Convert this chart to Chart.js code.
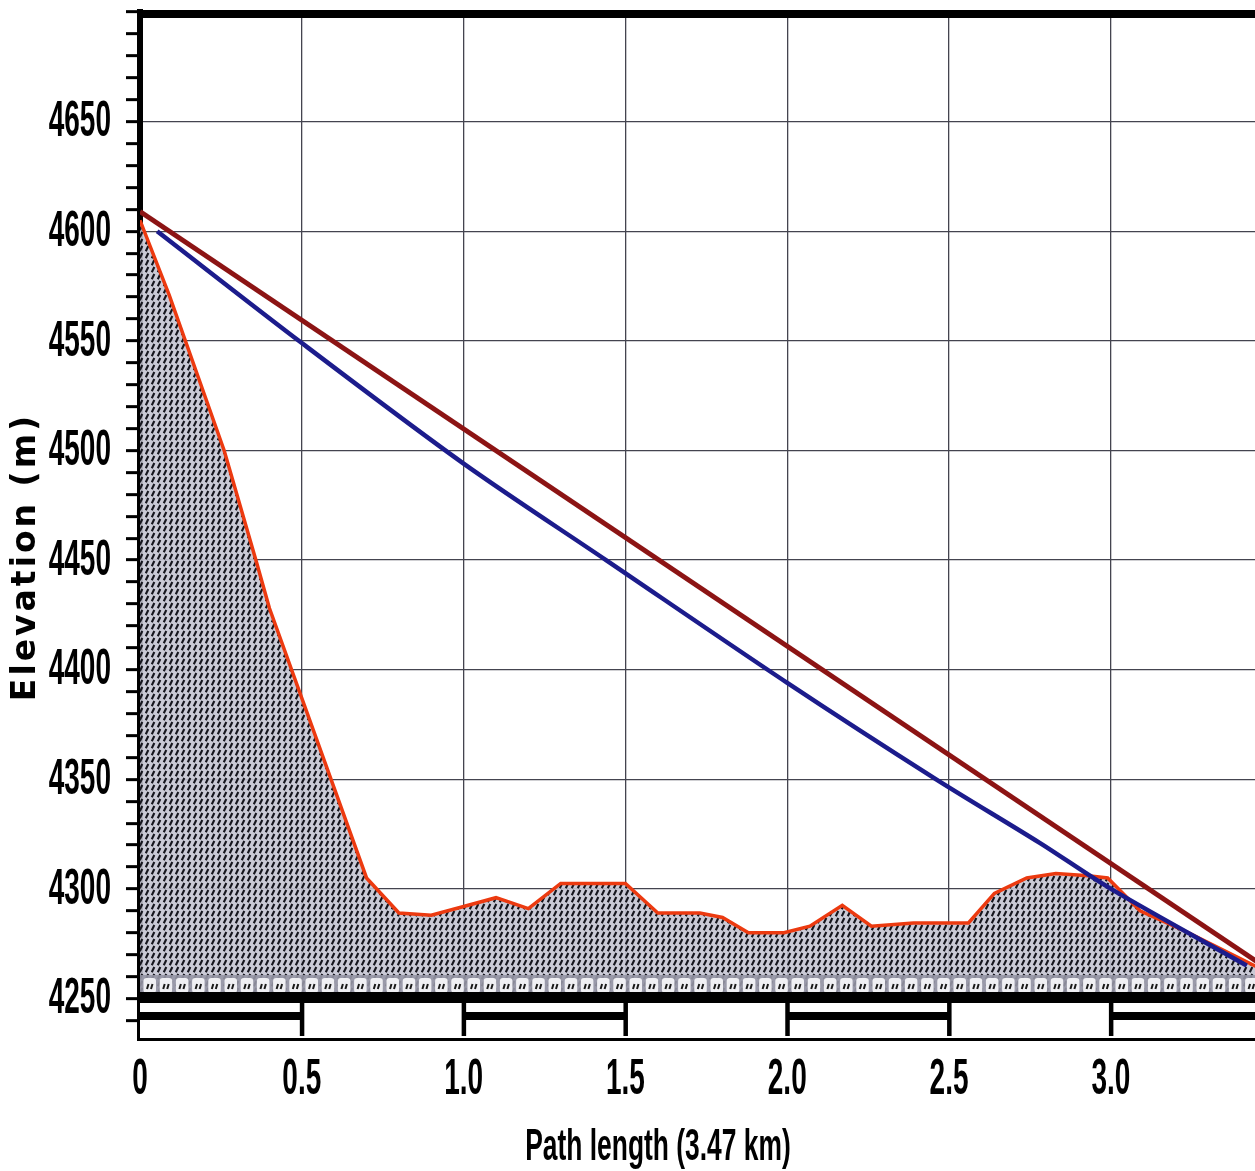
<!DOCTYPE html>
<html>
<head>
<meta charset="utf-8">
<script src="https://cdn.jsdelivr.net/npm/chart.js@4"></script>
<style>
  html, body { margin: 0; padding: 0; background: #fff; overflow: hidden; }
  #wrap { width: 1255px; height: 1171px; overflow: hidden; }
</style>
</head>
<body>
<div id="wrap"><canvas id="profileChart" width="1263" height="1171"></canvas></div>
<script>
// terrain profile (km, m)
const profileKm = [0, 0.09, 0.26, 0.36, 0.40, 0.70, 0.80, 0.90, 1.00, 1.10, 1.20, 1.30, 1.50, 1.60, 1.73, 1.80, 1.88, 1.99, 2.07, 2.17, 2.26, 2.39, 2.56, 2.64, 2.74, 2.83, 2.93, 2.99, 3.09, 3.24, 3.47];
const profileElev = [4605, 4571, 4500, 4449, 4428, 4305, 4289, 4288, 4292, 4296, 4291, 4302.5, 4302.5, 4289, 4289, 4287, 4280, 4280, 4283, 4292.5, 4283, 4284.5, 4284.5, 4298, 4305, 4307, 4306, 4305, 4290, 4280, 4263];

// line of sight (dark red) and curved ray (blue)
const losKm = [0, 3.47];
const losElev = [4609, 4265];
const rayKm = [0.053, 0.5, 1.0, 1.44, 2.0, 2.46, 2.78, 3.0, 3.42];
const rayElev = [4600, 4549, 4494, 4450, 4394, 4350, 4321, 4300, 4265];

// axis labels
const yTickValues = [4250, 4300, 4350, 4400, 4450, 4500, 4550, 4600, 4650];
const xTickValues = [0, 0.5, 1.0, 1.5, 2.0, 2.5, 3.0];
const xTickLabels = ['0', '0.5', '1.0', '1.5', '2.0', '2.5', '3.0'];
const xTitle = 'Path length (3.47 km)';
const yTitle = 'Elevation (m)';

const toPoints = (xs, ys) => xs.map((v, i) => ({ x: v, y: ys[i] }));

// hatch pattern for the ground
function makeHatch() {
    const pc = document.createElement('canvas');
    pc.width = 6; pc.height = 7;
    const p = pc.getContext('2d');
    p.fillStyle = 'rgba(196,196,210,0.9)';
    p.fillRect(0, 0, 6, 7);
    p.strokeStyle = '#15151d';
    p.lineWidth = 2.1;
    p.beginPath();
    p.moveTo(1.8, 6.2);
    p.lineTo(4.3, 1);
    p.stroke();
    return p.createPattern(pc, 'repeat');
}

// scale bar, frame top and text
const overlay = {
    id: 'overlay',
    afterDatasetsDraw(chart) {
        const { ctx, chartArea: a, scales: { x } } = chart;
        const b = a.bottom;
        ctx.save();
        ctx.beginPath();
        ctx.rect(a.left, 0, a.right - a.left, chart.height);
        ctx.clip();

        // strip of cells
        ctx.fillStyle = 'rgba(150,150,165,0.9)';
        ctx.fillRect(a.left, b - 63, a.right - a.left, 19);
        for (let px = a.left + 2; px < a.right; px += 16.2) {
            ctx.fillStyle = 'rgba(244,244,248,0.95)';
            ctx.beginPath();
            ctx.roundRect(px + 1.5, b - 60, 12.5, 15, 3);
            ctx.fill();
            ctx.strokeStyle = '#1a1a1a';
            ctx.lineWidth = 2;
            ctx.beginPath();
            ctx.moveTo(px + 5, b - 49); ctx.lineTo(px + 6.5, b - 54);
            ctx.moveTo(px + 9, b - 49); ctx.lineTo(px + 10.5, b - 54);
            ctx.stroke();
        }
        // white under the strip
        ctx.fillStyle = '#fff';
        ctx.fillRect(a.left, b - 44, a.right - a.left, 44);
        // thick bar
        ctx.fillStyle = '#000';
        ctx.fillRect(a.left, b - 46, a.right - a.left, 11);
        // alternating segments
        for (let k = 0; k < x.max; k += 1) {
            const x0 = x.getPixelForValue(k);
            const x1 = x.getPixelForValue(Math.min(k + 0.5, x.max));
            ctx.fillRect(x0, b - 26, x1 - x0, 8);
        }
        // ticks
        xTickValues.forEach(v => {
            if (v === 0) return;
            const px = x.getPixelForValue(v);
            ctx.fillRect(px - 2, b - 36, 4.5, 34);
        });
        ctx.restore();

        // top frame
        ctx.fillStyle = '#000';
        ctx.fillRect(a.left - 3, a.top - 2, chart.width, 8);
    },
    afterDraw(chart) {
        const { ctx, chartArea: a, scales: { x, y } } = chart;
        ctx.save();
        ctx.fillStyle = '#000';
        ctx.font = 'bold 50px "Liberation Sans", Arial, sans-serif';
        ctx.textBaseline = 'middle';

        ctx.textAlign = 'right';
        yTickValues.forEach(v => {
            ctx.save();
            ctx.translate(111, y.getPixelForValue(v) + 1);
            ctx.scale(0.56, 1);
            ctx.fillText(String(v), 0, 0);
            ctx.restore();
        });

        ctx.textAlign = 'center';
        xTickValues.forEach((v, i) => {
            ctx.save();
            ctx.translate(x.getPixelForValue(v), 1080);
            ctx.scale(0.56, 1);
            ctx.fillText(xTickLabels[i], 0, 0);
            ctx.restore();
        });

        // x title
        ctx.save();
        ctx.font = 'bold 44px "Liberation Sans", Arial, sans-serif';
        ctx.textBaseline = 'alphabetic';
        ctx.translate(658, 1160);
        ctx.scale(0.6, 1);
        ctx.fillText(xTitle, 0, 0);
        ctx.restore();

        // y title
        ctx.save();
        ctx.font = 'bold 33px "DejaVu Sans", sans-serif';
        ctx.letterSpacing = '3px';
        ctx.textBaseline = 'middle';
        ctx.translate(26, 557);
        ctx.rotate(-Math.PI / 2);
        ctx.fillText(yTitle, 0, 0);
        ctx.restore();

        ctx.restore();
    }
};

const ctx = document.getElementById('profileChart').getContext('2d');

new Chart(ctx, {
    type: 'line',
    data: {
        datasets: [
            {
                label: 'Line of sight',
                data: toPoints(losKm, losElev),
                borderColor: '#8c1414',
                borderWidth: 5,
                pointRadius: 0,
                fill: false
            },
            {
                label: 'Ray',
                data: toPoints(rayKm, rayElev),
                borderColor: '#1c1c8c',
                borderWidth: 4.5,
                pointRadius: 0,
                tension: 0.3,
                fill: false
            },
            {
                label: 'Terrain',
                data: toPoints(profileKm, profileElev),
                borderColor: '#ec3a10',
                borderWidth: 3.5,
                pointRadius: 0,
                backgroundColor: makeHatch(),
                fill: 'start'
            }
        ]
    },
    options: {
        responsive: false,
        animation: false,
        layout: { padding: { top: 12, left: 0, right: 0, bottom: 0 } },
        plugins: {
            legend: { display: false },
            tooltip: { enabled: false }
        },
        scales: {
            x: {
                type: 'linear',
                min: 0,
                max: 3.47,
                ticks: { display: false, stepSize: 0.5, includeBounds: false },
                grid: {
                    drawTicks: false,
                    color: c => (c.tick && c.tick.value > 0 ? '#44444f' : 'transparent'),
                    lineWidth: 1.3
                },
                border: { color: '#000', width: 6 },
                afterFit(scale) { scale.height = 133; }
            },
            y: {
                min: 4232,
                max: 4700,
                ticks: { display: false, stepSize: 10, includeBounds: false },
                grid: {
                    drawTicks: true,
                    tickLength: 14,
                    tickWidth: 3,
                    tickColor: '#000',
                    color: c => {
                        const v = c.tick ? c.tick.value : 0;
                        return (v % 50 === 0 && v > 4250 && v < 4700) ? '#44444f' : 'transparent';
                    },
                    lineWidth: 1.3
                },
                border: { color: '#000', width: 6 },
                afterFit(scale) { scale.width = 140; }
            }
        }
    },
    plugins: [overlay]
});
</script>
</body>
</html>
